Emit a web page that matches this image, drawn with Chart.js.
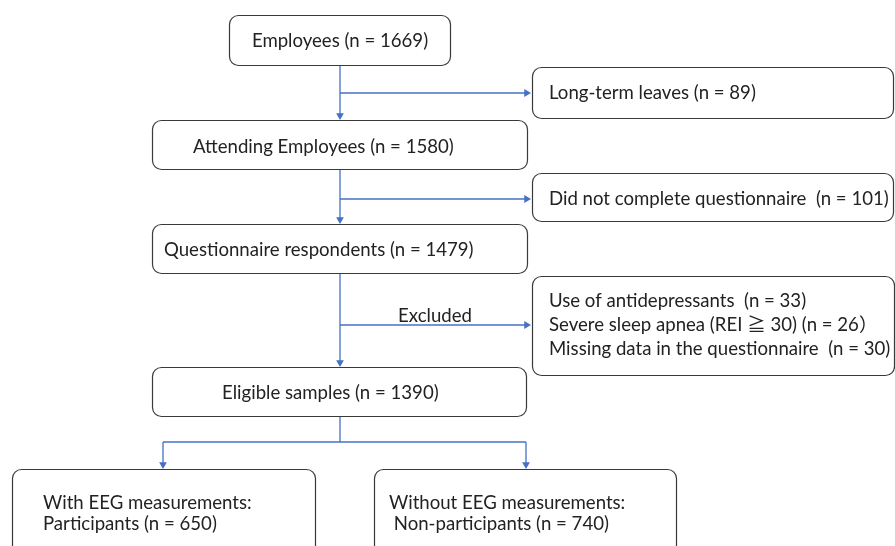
<!DOCTYPE html>
<html><head><meta charset="utf-8">
<script src="https://cdn.jsdelivr.net/npm/chart.js@4.4.1/dist/chart.umd.min.js"></script>
<style>html,body{margin:0;padding:0;background:#fff;} #wrap{width:895px;height:546px;}</style>
</head><body><div id="wrap"><canvas id="c" width="895" height="546"></canvas></div>
<script>
// ---------- DATA ----------
const stageLabels = ["Employees", "Attending Employees", "Questionnaire respondents", "Eligible samples"];
const stageCounts = [1669, 1580, 1479, 1390];
const exclusionLabels = ["Long-term leaves", "Did not complete questionnaire", "Use of antidepressants", "Severe sleep apnea (REI \u2267 30)", "Missing data in the questionnaire"];
const exclusionCounts = [89, 101, 33, 26, 30];
const exclusionStep = [0, 1, 2, 2, 2];
const excludedTag = "Excluded";
const groupTitles = ["With EEG measurements:", "Without EEG measurements:"];
const groupLabels = ["Participants", "Non-participants"];
const groupCounts = [650, 740];

// ---------- LAYOUT (canvas units) ----------
const layout = {
  stageBoxes: [
    {x0:229, x1:450, y0:15, y1:65, tx:340, ty:41, align:'center'},
    {x0:152, x1:527, y0:120, y1:169, tx:193, ty:147, align:'left'},
    {x0:152, x1:527, y0:224, y1:273, tx:164, ty:250, align:'left'},
    {x0:152, x1:526, y0:367, y1:416, tx:222, ty:393, align:'left'}
  ],
  exclBoxes: [
    {x0:532, x1:893, y0:67, y1:118},
    {x0:532, x1:893, y0:173, y1:221},
    {x0:532, x1:894, y0:276, y1:375}
  ],
  exclText: {x:549, ys:[93, 199, 301, 325, 349], gap:[" ", "  ", "  ", " ", "  "], close:[")", ")", ")", "\uFF09", ")"]},
  groupBoxes: [
    {x0:12, x1:315, y0:469, y1:575, tx:43, ys:[503, 524], indent:""},
    {x0:374, x1:676, y0:469, y1:575, tx:389, ys:[503, 524], indent:" "}
  ],
  spineX: 340,
  arrowEndX: 531,
  branchY: [93, 199, 325],
  splitY: 442,
  excludedAt: {x:435, y:316},
  radius: 9
};
const FONT = '18.6px Lato, "Noto Sans CJK JP", sans-serif';
const TEXT = '#222222';
const LINE = '#4472C4';
const BORDER = '#3a3a3a';

// ---------- connectors built from layout ----------
const segs = [];
const arrows = [];
const L = layout;
for (let i = 0; i < stageLabels.length - 1; i++) {
  const a = L.stageBoxes[i], b = L.stageBoxes[i + 1];
  segs.push([{x:L.spineX, y:a.y1}, {x:L.spineX, y:b.y0 - 3}]);
  arrows.push({x:L.spineX, y:b.y0 - 4.5, r:180});
}
exclusionStep.forEach((s, i) => {
  if (i > 0 && exclusionStep[i - 1] === s) return;
  const y = L.branchY[s];
  segs.push([{x:L.spineX, y:y}, {x:L.arrowEndX - 3, y:y}]);
  arrows.push({x:L.arrowEndX - 4.5, y:y, r:90});
});
const last = L.stageBoxes[L.stageBoxes.length - 1];
const gx = [163, 526];
segs.push([{x:L.spineX, y:last.y1}, {x:L.spineX, y:L.splitY}]);
segs.push([{x:gx[0], y:L.splitY}, {x:gx[1], y:L.splitY}]);
groupCounts.forEach((n, i) => {
  segs.push([{x:gx[i], y:L.splitY}, {x:gx[i], y:L.groupBoxes[i].y0 - 3}]);
  arrows.push({x:gx[i], y:L.groupBoxes[i].y0 - 4.5, r:180});
});

const datasets = segs.map(s => ({
  data: s, showLine: true, borderColor: LINE, borderWidth: 1.3,
  pointRadius: 0, fill: false
}));
datasets.push({
  data: arrows.map(a => ({x:a.x, y:a.y})),
  showLine: false, pointStyle: 'triangle', pointRadius: 4.5,
  pointRotation: arrows.map(a => a.r),
  backgroundColor: LINE, borderColor: LINE, borderWidth: 0
});

function roundRect(ctx, x0, y0, x1, y1, r) {
  ctx.beginPath();
  ctx.moveTo(x0 + r, y0);
  ctx.lineTo(x1 - r, y0);
  ctx.arcTo(x1, y0, x1, y0 + r, r);
  ctx.lineTo(x1, y1 - r);
  ctx.arcTo(x1, y1, x1 - r, y1, r);
  ctx.lineTo(x0 + r, y1);
  ctx.arcTo(x0, y1, x0, y1 - r, r);
  ctx.lineTo(x0, y0 + r);
  ctx.arcTo(x0, y0, x0 + r, y0, r);
  ctx.closePath();
  ctx.fillStyle = '#fff';
  ctx.fill();
  ctx.lineWidth = 1.2;
  ctx.strokeStyle = BORDER;
  ctx.stroke();
}

const flowPlugin = {
  id: 'flow',
  afterDatasetsDraw(chart) {
    const ctx = chart.ctx, xs = chart.scales.x, ys = chart.scales.y;
    const px = v => xs.getPixelForValue(v), py = v => ys.getPixelForValue(v);
    const box = b => roundRect(ctx, px(b.x0) + 0.5, py(b.y0) + 0.5, px(b.x1) + 0.5, py(b.y1) + 0.5, L.radius);
    ctx.save();
    L.stageBoxes.forEach(box);
    L.exclBoxes.forEach(box);
    L.groupBoxes.forEach(box);
    ctx.font = FONT;
    ctx.fillStyle = TEXT;
    ctx.textBaseline = 'middle';
    stageLabels.forEach((lab, i) => {
      const b = L.stageBoxes[i];
      ctx.textAlign = b.align;
      ctx.fillText(`${lab} (n = ${stageCounts[i]})`, px(b.tx), py(b.ty));
    });
    ctx.textAlign = 'left';
    exclusionLabels.forEach((lab, i) => {
      ctx.fillText(`${lab}${L.exclText.gap[i]}(n = ${exclusionCounts[i]}${L.exclText.close[i]}`, px(L.exclText.x), py(L.exclText.ys[i]));
    });
    groupTitles.forEach((t, i) => {
      const g = L.groupBoxes[i];
      ctx.fillText(t, px(g.tx), py(g.ys[0]));
      ctx.fillText(`${g.indent}${groupLabels[i]} (n = ${groupCounts[i]})`, px(g.tx), py(g.ys[1]));
    });
    ctx.textAlign = 'center';
    ctx.fillText(excludedTag, px(L.excludedAt.x), py(L.excludedAt.y));
    ctx.restore();
  }
};

new Chart(document.getElementById('c'), {
  type: 'scatter',
  data: { datasets },
  options: {
    responsive: false, animation: false, events: [],
    layout: { padding: 0, autoPadding: false },
    plugins: { legend: { display: false }, tooltip: { enabled: false } },
    scales: {
      x: { type: 'linear', min: 0, max: 895, display: false },
      y: { type: 'linear', min: 0, max: 546, reverse: true, display: false }
    },
    elements: { line: { tension: 0 } }
  },
  plugins: [flowPlugin]
});
</script>
</body></html>
